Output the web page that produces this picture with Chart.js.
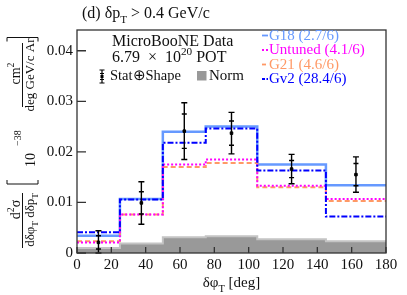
<!DOCTYPE html>
<html>
<head>
<meta charset="utf-8">
<script src="https://cdn.jsdelivr.net/npm/chart.js@4.4.0/dist/chart.umd.min.js"></script>
<style>
  body { margin: 0; background: #fff; }
  #wrap { width: 407px; height: 295px; }
</style>
</head>
<body>
<div id="wrap"><canvas id="c" width="407" height="295"></canvas></div>
<script>
// bins in delta phi_T [deg]
const binEdges = [0, 25, 50, 75, 105, 145, 180];
const binCenters = [12.5, 37.5, 62.5, 90, 125, 162.5];

// data + uncertainties (10^-38 cm2 / deg GeV/c Ar)
const dataVals = [0.0021, 0.0099, 0.0241, 0.0237, 0.0166, 0.0155];
const errTotal = [0.0023, 0.0042, 0.0056, 0.0041, 0.0029, 0.0035];
const errStat = [0.0013, 0.0022, 0.0034, 0.0024, 0.0017, 0.0022];
const normVals = [0.0010, 0.0019, 0.0031, 0.0033, 0.0027, 0.0023];

// generator predictions
const g18 = [0.0034, 0.0107, 0.0240, 0.0250, 0.0175, 0.0134];
const untuned = [0.0021, 0.0076, 0.0175, 0.0185, 0.0133, 0.0107];
const g21 = [0.0023, 0.0076, 0.0170, 0.0178, 0.0130, 0.0103];
const gv2 = [0.0041, 0.0106, 0.0218, 0.0246, 0.0163, 0.0072];

const xTicks = [0, 20, 40, 60, 80, 100, 120, 140, 160, 180];
const yTicks = [0, 0.01, 0.02, 0.03, 0.04];

const fontOf = s => s + 'px "Liberation Serif", "Times New Roman", serif';

// histogram as step points on the bin edges
function steps(vals) {
    return binEdges.map((e, i) => ({ x: e, y: vals[Math.min(i, vals.length - 1)] }));
}

function rich(ctx, parts, x, y, size, align) {
    const seg = parts.map(p => {
        const t = typeof p === 'string' ? p : p[0];
        const k = typeof p === 'string' ? '' : p[1];
        const fs = k ? size * 0.7 : size;
        ctx.font = fontOf(fs);
        return { t, k, fs, w: ctx.measureText(t).width };
    });
    const total = seg.reduce((a, s) => a + s.w, 0);
    let cx = align === 'center' ? x - total / 2 : x;
    ctx.textAlign = 'left';
    ctx.textBaseline = 'alphabetic';
    seg.forEach(s => {
        ctx.font = fontOf(s.fs);
        const dy = s.k === 'sub' ? size * 0.3 : s.k === 'sup' ? -size * 0.45 : 0;
        ctx.fillText(s.t, cx, y + dy);
        cx += s.w;
    });
}

// rotated text: bx = baseline x on screen, cy = centre y
function vtext(ctx, parts, bx, cy, size) {
    ctx.save();
    ctx.translate(bx, cy);
    ctx.rotate(-Math.PI / 2);
    rich(ctx, parts, 0, 0, size, 'center');
    ctx.restore();
}

const errorBars = {
    id: 'errorBars',
    afterDatasetsDraw(chart) {
        const ctx = chart.ctx, xs = chart.scales.x, ys = chart.scales.y;
        ctx.save();
        ctx.strokeStyle = '#000';
        ctx.lineWidth = 1.4;
        dataVals.forEach((v, i) => {
            const px = xs.getPixelForValue(binCenters[i]);
            const top = ys.getPixelForValue(v + errTotal[i]);
            const bot = ys.getPixelForValue(Math.max(0, v - errTotal[i]));
            const it = ys.getPixelForValue(v + errStat[i]);
            const ib = ys.getPixelForValue(Math.max(0, v - errStat[i]));
            ctx.beginPath();
            ctx.moveTo(px, top); ctx.lineTo(px, bot);
            ctx.moveTo(px - 3, top); ctx.lineTo(px + 3, top);
            ctx.moveTo(px - 3, bot); ctx.lineTo(px + 3, bot);
            ctx.moveTo(px - 2.5, it); ctx.lineTo(px + 2.5, it);
            ctx.moveTo(px - 2.5, ib); ctx.lineTo(px + 2.5, ib);
            ctx.stroke();
        });
        ctx.restore();
    }
};

const frameAndText = {
    id: 'frameAndText',
    afterDraw(chart) {
        const ctx = chart.ctx, a = chart.chartArea;
        const xs = chart.scales.x, ys = chart.scales.y;
        ctx.save();
        // frame + inner ticks
        ctx.strokeStyle = '#333';
        ctx.lineWidth = 1.3;
        ctx.strokeRect(a.left, a.top, a.right - a.left, a.bottom - a.top);
        ctx.beginPath();
        xTicks.forEach(v => {
            const px = xs.getPixelForValue(v);
            ctx.moveTo(px, a.bottom); ctx.lineTo(px, a.bottom - 6);
        });
        yTicks.forEach(v => {
            const py = ys.getPixelForValue(v);
            ctx.moveTo(a.left, py); ctx.lineTo(a.left + 9, py);
        });
        ctx.stroke();

        ctx.fillStyle = '#111';
        // title
        rich(ctx, ['(d) δp', ['T', 'sub'], ' > 0.4 GeV/c'], 82, 18, 16, 'left');
        // x title
        rich(ctx, ['δφ', ['T', 'sub'], ' [deg]'], (a.left + a.right) / 2, 287, 15, 'center');

        // y title
        vtext(ctx, ['cm', ['2', 'sup']], 20, 73.5, 14);
        vtext(ctx, ['deg GeV/c Ar'], 34, 75, 13);
        vtext(ctx, ['d', ['2', 'sup'], 'σ'], 20, 209.5, 14);
        vtext(ctx, ['dδφ', ['T', 'sub'], ' dδp', ['T', 'sub']], 34, 220, 13);
        ctx.save();
        ctx.translate(35, 167); ctx.rotate(-Math.PI / 2);
        ctx.font = fontOf(14); ctx.textAlign = 'left';
        ctx.fillText('10', 0, 0);
        ctx.restore();
        ctx.save();
        ctx.translate(21, 146); ctx.rotate(-Math.PI / 2);
        ctx.font = fontOf(10); ctx.textAlign = 'left';
        ctx.fillText('−38', 0, 0);
        ctx.restore();
        ctx.strokeStyle = '#111';
        ctx.lineWidth = 1;
        ctx.beginPath();
        ctx.moveTo(22.5, 43); ctx.lineTo(22.5, 107);
        ctx.moveTo(22.5, 193); ctx.lineTo(22.5, 248);
        // brackets
        ctx.moveTo(7, 41.5); ctx.lineTo(7, 37.5); ctx.lineTo(38, 37.5); ctx.lineTo(38, 41.5);
        ctx.moveTo(7, 180); ctx.lineTo(7, 184); ctx.lineTo(38, 184); ctx.lineTo(38, 180);
        ctx.stroke();

        // left legend block
        rich(ctx, ['MicroBooNE Data'], 112, 46, 16, 'left');
        rich(ctx, ['6.79  ×  10', ['20', 'sup'], ' POT'], 112, 62, 16, 'left');
        rich(ctx, ['Stat⊕Shape'], 110, 80, 14.5, 'left');
        rich(ctx, ['Norm'], 209, 80, 15, 'left');
        ctx.strokeStyle = '#000';
        ctx.lineWidth = 1.2;
        ctx.beginPath();
        ctx.moveTo(102, 70); ctx.lineTo(102, 83);
        ctx.moveTo(99.5, 70); ctx.lineTo(104.5, 70);
        ctx.moveTo(99.5, 83); ctx.lineTo(104.5, 83);
        ctx.moveTo(100, 73.5); ctx.lineTo(104, 73.5);
        ctx.moveTo(100, 79.5); ctx.lineTo(104, 79.5);
        ctx.stroke();
        ctx.fillStyle = '#000';
        ctx.fillRect(100.5, 75, 3, 3);
        ctx.fillStyle = '#999';
        ctx.fillRect(197, 71, 9.5, 9.5);

        // right legend block
        const items = [
            ['G18 (2.7/6)', '#6699ff', [], 39.5],
            ['Untuned (4.1/6)', '#ff00ff', [2, 2], 54],
            ['G21 (4.6/6)', '#ff9966', [4, 2], 68.5],
            ['Gv2 (28.4/6)', '#0000ff', [3, 1.5, 1.5, 1.5], 83]
        ];
        items.forEach(([t, c, d, y]) => {
            ctx.fillStyle = c;
            rich(ctx, [t], 269, y, 15, 'left');
            ctx.strokeStyle = c;
            ctx.lineWidth = 1.8;
            ctx.setLineDash(d);
            ctx.beginPath();
            ctx.moveTo(262, y - 4); ctx.lineTo(268, y - 4);
            ctx.stroke();
        });
        ctx.setLineDash([]);
        ctx.restore();
    }
};

const tickFont = { family: '"Liberation Serif", "Times New Roman", serif', size: 15 };

new Chart(document.getElementById('c'), {
    type: 'line',
    data: {
        datasets: [
            {
                data: dataVals.map((v, i) => ({ x: binCenters[i], y: v })),
                showLine: false,
                pointStyle: 'rect',
                pointRadius: 1.8,
                backgroundColor: '#000',
                borderColor: '#000',
                order: 0
            },
            {
                data: steps(gv2), stepped: true, borderColor: '#0000ff',
                borderWidth: 2, borderDash: [6, 2, 2, 2], pointRadius: 0, order: 1
            },
            {
                data: steps(untuned), stepped: true, borderColor: '#ff00ff',
                borderWidth: 2, borderDash: [2, 2], pointRadius: 0, order: 2
            },
            {
                data: steps(g21), stepped: true, borderColor: '#ff9966',
                borderWidth: 2, borderDash: [5, 3], pointRadius: 0, order: 3
            },
            {
                data: steps(g18), stepped: true, borderColor: '#6699ff',
                borderWidth: 2.5, pointRadius: 0, order: 4
            },
            {
                data: steps(normVals), stepped: true, borderColor: '#c4c4c4',
                backgroundColor: '#999999', fill: 'origin',
                borderWidth: 2, pointRadius: 0, order: 5
            }
        ]
    },
    options: {
        responsive: false,
        animation: false,
        layout: { padding: { left: 0, right: 21, top: 30, bottom: 0 } },
        plugins: { legend: { display: false }, tooltip: { enabled: false } },
        scales: {
            x: {
                type: 'linear', min: 0, max: 180,
                afterBuildTicks: s => { s.ticks = xTicks.map(v => ({ value: v })); },
                afterFit: s => { s.height = 42; },
                ticks: { font: tickFont, color: '#111', padding: 3, maxRotation: 0, callback: v => String(v) },
                grid: { display: false, drawTicks: false },
                border: { display: false }
            },
            y: {
                min: 0, max: 0.0441,
                afterBuildTicks: s => { s.ticks = yTicks.map(v => ({ value: v })); },
                afterFit: s => { s.width = 77; },
                ticks: { font: tickFont, color: '#111', padding: 4, callback: v => v === 0 ? '0' : v.toFixed(2) },
                grid: { display: false, drawTicks: false },
                border: { display: false }
            }
        }
    },
    plugins: [errorBars, frameAndText]
});
</script>
</body>
</html>
